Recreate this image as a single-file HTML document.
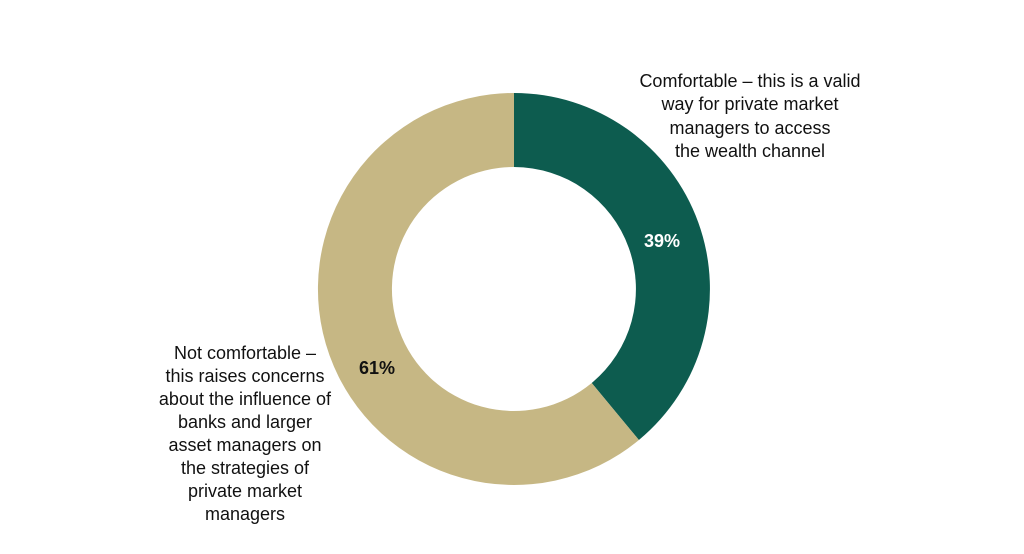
<!DOCTYPE html>
<html><head><meta charset="utf-8"><style>
html,body{margin:0;padding:0;background:#fff;}
svg text{font-family:"Liberation Sans",sans-serif;}
</style></head><body>
<svg width="1024" height="549" viewBox="0 0 1024 549" xmlns="http://www.w3.org/2000/svg">
<path d="M514 93 A196 196 0 0 1 638.9 440 L591.7 383 A122 122 0 0 0 514 167 Z" fill="#0d5c4f"/>
<path d="M638.9 440 A196 196 0 1 1 514 93 L514 167 A122 122 0 1 0 591.7 383 Z" fill="#c6b784"/>
<text x="662" y="247" font-size="18" font-weight="bold" fill="#fff" text-anchor="middle">39%</text>
<text x="377" y="374" font-size="18" font-weight="bold" fill="#111" text-anchor="middle">61%</text>
<g font-size="18" fill="#111" text-anchor="middle">
<text x="750" y="87">Comfortable – this is a valid</text>
<text x="750" y="110">way for private market</text>
<text x="750" y="134">managers to access</text>
<text x="750" y="157">the wealth channel</text>
</g>
<g font-size="18" fill="#111" text-anchor="middle">
<text x="245" y="359">Not comfortable –</text>
<text x="245" y="382">this raises concerns</text>
<text x="245" y="405">about the influence of</text>
<text x="245" y="428">banks and larger</text>
<text x="245" y="451">asset managers on</text>
<text x="245" y="474">the strategies of</text>
<text x="245" y="497">private market</text>
<text x="245" y="520">managers</text>
</g>
</svg>
</body></html>
